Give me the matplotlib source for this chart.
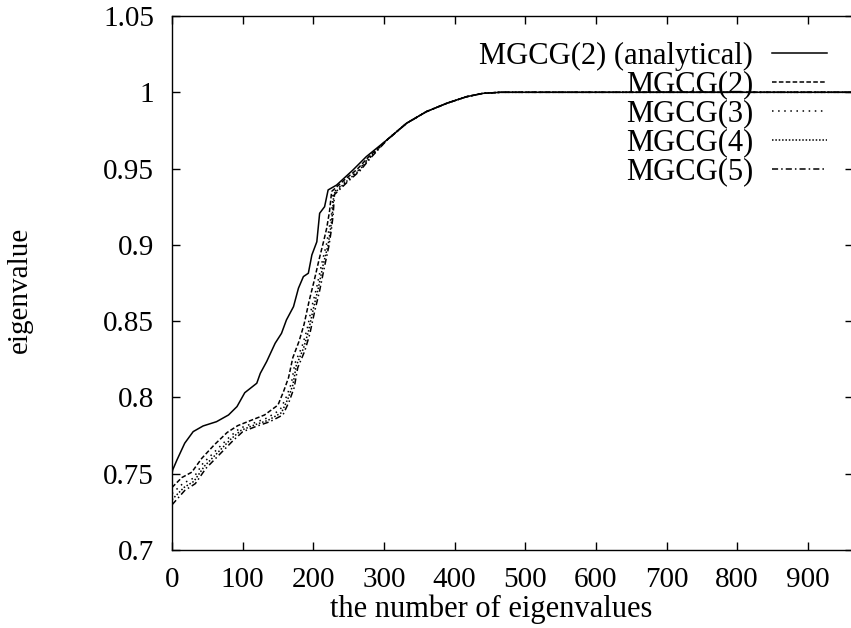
import matplotlib
matplotlib.use("Agg")
import matplotlib.pyplot as plt

plt.rcParams['font.family'] = ['Liberation Serif', 'DejaVu Serif']
plt.rcParams['font.size'] = 21

x_ana = [0, 1, 7, 18, 30, 44, 63, 80, 92, 103, 120, 125, 134, 146, 155, 162,
         172, 179, 186, 193, 198, 205, 209, 216, 221, 233, 256, 275, 304, 332,
         360, 389, 417, 440, 465, 1024]
y_ana = [0.750, 0.7525, 0.759, 0.770, 0.7776, 0.7813, 0.7841, 0.7885, 0.794,
         0.8031, 0.8093, 0.8158, 0.8235, 0.8355, 0.842, 0.8508, 0.8595, 0.8716,
         0.8792, 0.8814, 0.8934, 0.902, 0.9207, 0.925, 0.936, 0.9392, 0.949,
         0.9578, 0.9687, 0.9797, 0.9873, 0.9928, 0.9971, 0.9993, 1.0, 1.0]

x_mg2 = [0, 14, 28, 42, 60, 78, 93, 112, 131, 150, 158, 165, 171, 180, 187,
         194, 201, 208, 215, 219, 223, 226, 245, 262, 279, 304, 332, 360, 389,
         417, 440, 465, 1024]
y_mg2 = [0.741, 0.7475, 0.751, 0.7600, 0.7690, 0.7770, 0.7815, 0.7850, 0.7885,
         0.7950, 0.8040, 0.8130, 0.8260, 0.8370, 0.8480, 0.8630, 0.8760, 0.8900,
         0.9030, 0.9110, 0.9220, 0.9350, 0.9430, 0.9495, 0.9580, 0.9687, 0.9797,
         0.9873, 0.9928, 0.9971, 0.9993, 1.0, 1.0]

x_mg3 = [0, 16, 30, 44, 63, 82, 96, 115, 134, 153, 162, 169, 174, 184, 191,
         198, 205, 212, 219, 222, 226, 228, 247, 264, 280, 304, 332, 360, 389,
         417, 440, 465, 1024]
y_mg3 = [0.737, 0.7438, 0.747, 0.7569, 0.7656, 0.7743, 0.7798, 0.7831, 0.7864,
         0.7918, 0.8005, 0.8093, 0.8224, 0.8333, 0.8442, 0.8595, 0.8726, 0.8879,
         0.901, 0.9098, 0.9207, 0.934, 0.9425, 0.949, 0.9578, 0.9687, 0.9797,
         0.9873, 0.9928, 0.9971, 0.9993, 1.0, 1.0]

x_mg4 = [0, 17, 31, 46, 65, 84, 98, 117, 136, 155, 164, 171, 176, 186, 193,
         200, 207, 214, 221, 224, 227, 229, 248, 265, 281, 304, 332, 360, 389,
         417, 440, 465, 1024]
y_mg4 = [0.733, 0.7410, 0.7450, 0.7550, 0.7640, 0.7730, 0.7785, 0.7820, 0.7850,
         0.7900, 0.7990, 0.8080, 0.8210, 0.8320, 0.8430, 0.8580, 0.8715, 0.8870,
         0.9000, 0.9090, 0.9200, 0.9335, 0.9420, 0.9488, 0.9576, 0.9686, 0.9797,
         0.9873, 0.9928, 0.9971, 0.9993, 1.0, 1.0]

x_mg5 = [0, 18, 33, 48, 67, 86, 100, 119, 138, 157, 166, 173, 178, 188, 195,
         202, 209, 216, 222, 225, 228, 230, 249, 266, 282, 304, 332, 360, 389,
         417, 440, 465, 1024]
y_mg5 = [0.7296, 0.7390, 0.7435, 0.7535, 0.7625, 0.7715, 0.7775, 0.7810, 0.7840,
         0.7885, 0.7975, 0.8065, 0.8195, 0.8305, 0.8415, 0.8565, 0.8700, 0.8860,
         0.8990, 0.9080, 0.9190, 0.9330, 0.9415, 0.9485, 0.9574, 0.9685, 0.9796,
         0.9873, 0.9928, 0.9971, 0.9993, 1.0, 1.0]

fig = plt.figure(figsize=(8.51, 6.28), dpi=100)
ax = fig.add_axes([172/851, 1 - 550/628, 681/851, 534/628])

lw = 1.1
ax.plot(x_ana, y_ana, color='black', lw=lw, label='MGCG(2) (analytical)')
ax.plot(x_mg2, y_mg2, color='black', lw=lw, dashes=(3, 1.5), label='MGCG(2)')
ax.plot(x_mg3, y_mg3, color='black', lw=lw, dashes=(1, 3), label='MGCG(3)')
ax.plot(x_mg4, y_mg4, color='black', lw=lw, dashes=(1, 1.2), label='MGCG(4)')
ax.plot(x_mg5, y_mg5, color='black', lw=lw, dashes=(4, 2, 1, 2), label='MGCG(5)')

ax.set_xlim(0, 964)
ax.set_ylim(0.7, 1.05)
ax.set_xticks(range(0, 1000, 100))
ax.set_yticks([0.7, 0.75, 0.8, 0.85, 0.9, 0.95, 1.0, 1.05])
ax.set_yticklabels(['0.7', '0.75', '0.8', '0.85', '0.9', '0.95', '1', '1.05'])
ax.tick_params(direction='in', length=6, width=1, top=True, right=True,
               labelsize=21)
ax.tick_params(axis='x', pad=12)
ax.tick_params(axis='y', pad=13)
for s in ax.spines.values():
    s.set_linewidth(1.0)

ax.set_xlabel('the number of eigenvalues', fontsize=22)
ax.xaxis.set_label_coords((491 - 172) / 681, -0.084)
ax.set_ylabel('eigenvalue', fontsize=21)
ax.yaxis.set_label_coords(-0.205, 0.487)

ax.legend(loc='upper right', bbox_to_anchor=(0.962, 0.952), frameon=False,
          markerfirst=False, fontsize=22, handlelength=1.8,
          handletextpad=0.62, labelspacing=0.0, borderpad=0, borderaxespad=0)

fig.savefig('out.png', dpi=100)
